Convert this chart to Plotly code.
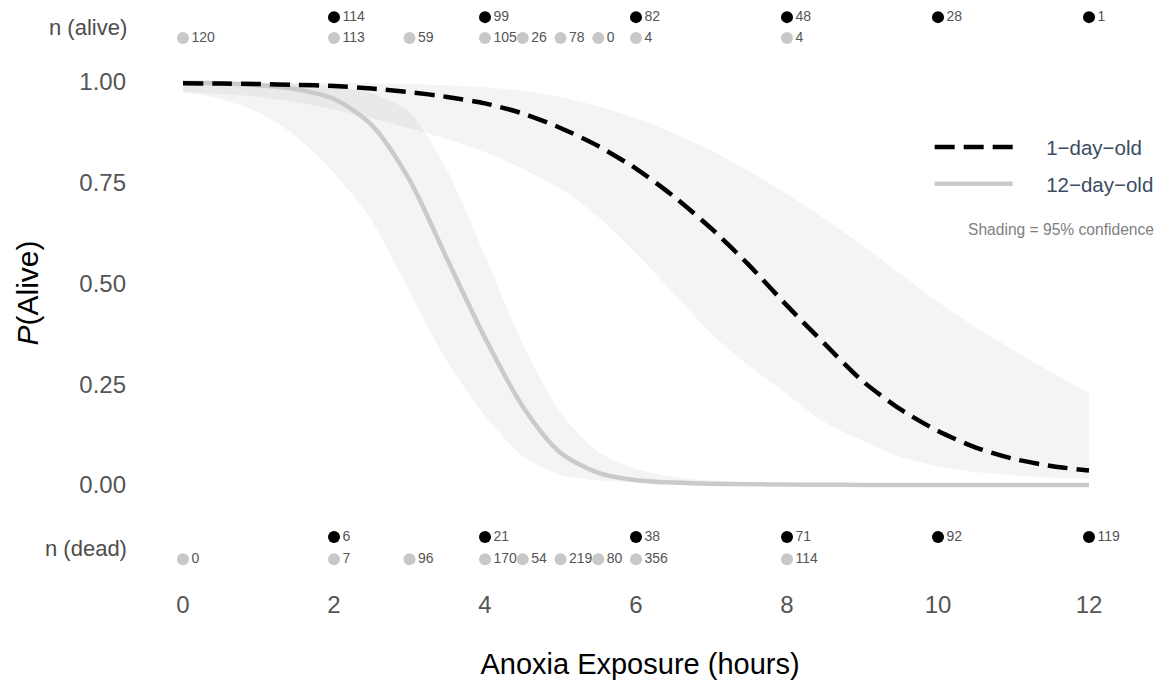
import plotly.graph_objects as go

# ---------------- data ----------------
hours = [0, 0.5, 1, 1.5, 2, 2.5, 3, 3.5, 4, 4.5, 5, 5.5, 6, 6.5, 7, 7.5, 8,
         8.5, 9, 9.5, 10, 10.5, 11, 11.5, 12]

day1_fit = [0.997, 0.996, 0.995, 0.993, 0.990, 0.984, 0.975, 0.963, 0.947, 0.922,
            0.886, 0.841, 0.785, 0.716, 0.636, 0.545, 0.445, 0.350, 0.258, 0.188,
            0.134, 0.093, 0.065, 0.047, 0.036]
day1_upper = [1.000, 1.000, 0.999, 0.999, 0.998, 0.997, 0.995, 0.992, 0.987, 0.978,
              0.963, 0.940, 0.910, 0.873, 0.830, 0.778, 0.722, 0.660, 0.595, 0.525,
              0.455, 0.392, 0.335, 0.280, 0.228]
day1_lower = [0.975, 0.970, 0.963, 0.950, 0.932, 0.910, 0.885, 0.858, 0.826, 0.785,
              0.735, 0.665, 0.575, 0.475, 0.375, 0.295, 0.225, 0.155, 0.110, 0.070,
              0.046, 0.032, 0.024, 0.018, 0.015]

day12_fit = [0.998, 0.997, 0.992, 0.982, 0.958, 0.893, 0.757, 0.560, 0.365, 0.195,
             0.080, 0.030, 0.012, 0.006, 0.003, 0.002, 0.001, 0.0005, 0.0003, 0.0002,
             0.0001, 0.0, 0.0, 0.0, 0.0]
day12_upper = [1.000, 0.9995, 0.998, 0.995, 0.988, 0.972, 0.925, 0.780, 0.570, 0.350,
               0.180, 0.082, 0.040, 0.020, 0.011, 0.006, 0.003, 0.002, 0.001, 0.0005,
               0.0003, 0.0002, 0.0001, 0.0, 0.0]
day12_lower = [0.975, 0.958, 0.925, 0.865, 0.775, 0.655, 0.480, 0.305, 0.172, 0.072,
               0.025, 0.012, 0.007, 0.004, 0.002, 0.001, 0.0005, 0.0, 0.0, 0.0,
               0.0, 0.0, 0.0, 0.0, 0.0]

# sample sizes
day1_hours = [2, 4, 6, 8, 10, 12]
day1_alive = [114, 99, 82, 48, 28, 1]
day1_dead = [6, 21, 38, 71, 92, 119]

day12_hours = [0, 2, 3, 4, 4.5, 5, 5.5, 6, 8]
day12_alive = [120, 113, 59, 105, 26, 78, 0, 4, 4]
day12_dead = [0, 7, 96, 170, 54, 219, 80, 356, 114]

# rows where the count labels sit (in P(Alive) units, outside 0..1)
row_alive_day1, row_alive_day12 = 1.161, 1.109
row_dead_day1, row_dead_day12 = -0.129, -0.184

x_ticks = [0, 2, 4, 6, 8, 10, 12]
y_ticks = [0, 0.25, 0.5, 0.75, 1.0]
y_ticklabels = ["0.00", "0.25", "0.50", "0.75", "1.00"]

# ---------------- styling ----------------
FONT = "Liberation Sans, Arial, sans-serif"
BAND = "rgba(0,0,0,0.045)"
GREY_LINE = "#cacaca"
GREY_DOT = "#c8c8c8"
LABEL_COL = "#555555"
PAD = "\u00a0" * 5

fig = go.Figure()

# confidence bands (upper edge, then lower edge filled to it)
for up, lo in [(day1_upper, day1_lower), (day12_upper, day12_lower)]:
    fig.add_trace(go.Scatter(
        x=hours, y=up, mode="lines",
        line=dict(width=0, shape="spline", smoothing=0.7),
        hoverinfo="skip", showlegend=False))
    fig.add_trace(go.Scatter(
        x=hours, y=lo, mode="lines", fill="tonexty", fillcolor=BAND,
        line=dict(width=0, shape="spline", smoothing=0.7),
        hoverinfo="skip", showlegend=False))

# fitted curves
fig.add_trace(go.Scatter(
    x=hours, y=day12_fit, mode="lines", name=PAD + "12\u2212day\u2212old",
    line=dict(color=GREY_LINE, width=4.5, shape="spline", smoothing=0.8),
    legend="legend2"))
fig.add_trace(go.Scatter(
    x=hours, y=day1_fit, mode="lines", name=PAD + "1\u2212day\u2212old",
    line=dict(color="black", width=4.5, dash="20px,9px", shape="spline", smoothing=0.7),
    legend="legend"))

# sample-size rows
def count_row(xs, counts, yrow, color):
    fig.add_trace(go.Scatter(
        x=xs, y=[yrow] * len(xs), mode="markers+text",
        marker=dict(size=12, color=color),
        text=[str(c) for c in counts], textposition="middle right",
        textfont=dict(family=FONT, size=14, color=LABEL_COL),
        cliponaxis=False, showlegend=False, hoverinfo="skip"))

count_row(day1_hours, day1_alive, row_alive_day1, "black")
count_row(day12_hours, day12_alive, row_alive_day12, GREY_DOT)
count_row(day1_hours, day1_dead, row_dead_day1, "black")
count_row(day12_hours, day12_dead, row_dead_day12, GREY_DOT)

# row labels
fig.add_annotation(x=0, xref="paper", xanchor="right", xshift=-1,
                   y=(row_alive_day1 + row_alive_day12) / 2, yref="y",
                   text="n (alive)", showarrow=False,
                   font=dict(family=FONT, size=22, color="#4d4d4d"))
fig.add_annotation(x=0, xref="paper", xanchor="right", xshift=-1,
                   y=(row_dead_day1 + row_dead_day12) / 2, yref="y",
                   text="n (dead)", showarrow=False,
                   font=dict(family=FONT, size=22, color="#4d4d4d"))

fig.add_annotation(x=1.006, xref="paper", xanchor="right",
                   y=0.609, yref="paper", yanchor="middle",
                   text="Shading = 95% confidence", showarrow=False,
                   font=dict(family=FONT, size=15.6, color="#808080"))

leg_common = dict(xanchor="left", yanchor="middle", bgcolor="rgba(0,0,0,0)",
                  font=dict(family=FONT, size=20.5, color="#3c4c63"),
                  itemwidth=78)

fig.update_layout(
    width=1160, height=685,
    margin=dict(l=130, r=10, t=0, b=99),
    paper_bgcolor="white", plot_bgcolor="white",
    font=dict(family=FONT),
    legend=dict(x=0.784, y=0.749, **leg_common),
    legend2=dict(x=0.784, y=0.686, **leg_common),
    xaxis=dict(range=[-0.702, 12.808], tickvals=x_ticks, ticks="",
               showgrid=False, zeroline=False, showline=False,
               tickfont=dict(family=FONT, size=24, color=LABEL_COL),
               ticklabelstandoff=2,
               title=dict(text="Anoxia Exposure (hours)", standoff=36,
                          font=dict(family=FONT, size=29, color="black")),
               automargin=False),
    yaxis=dict(range=[-0.2506, 1.2035], tickvals=y_ticks, ticktext=y_ticklabels,
               ticks="", showgrid=False, zeroline=False, showline=False,
               tickfont=dict(family=FONT, size=24, color=LABEL_COL),
               ticklabelstandoff=3,
               title=dict(text="<i>P</i>(Alive)", standoff=31,
                          font=dict(family=FONT, size=30, color="black")),
               automargin=False),
)

fig.write_html("out.html")
